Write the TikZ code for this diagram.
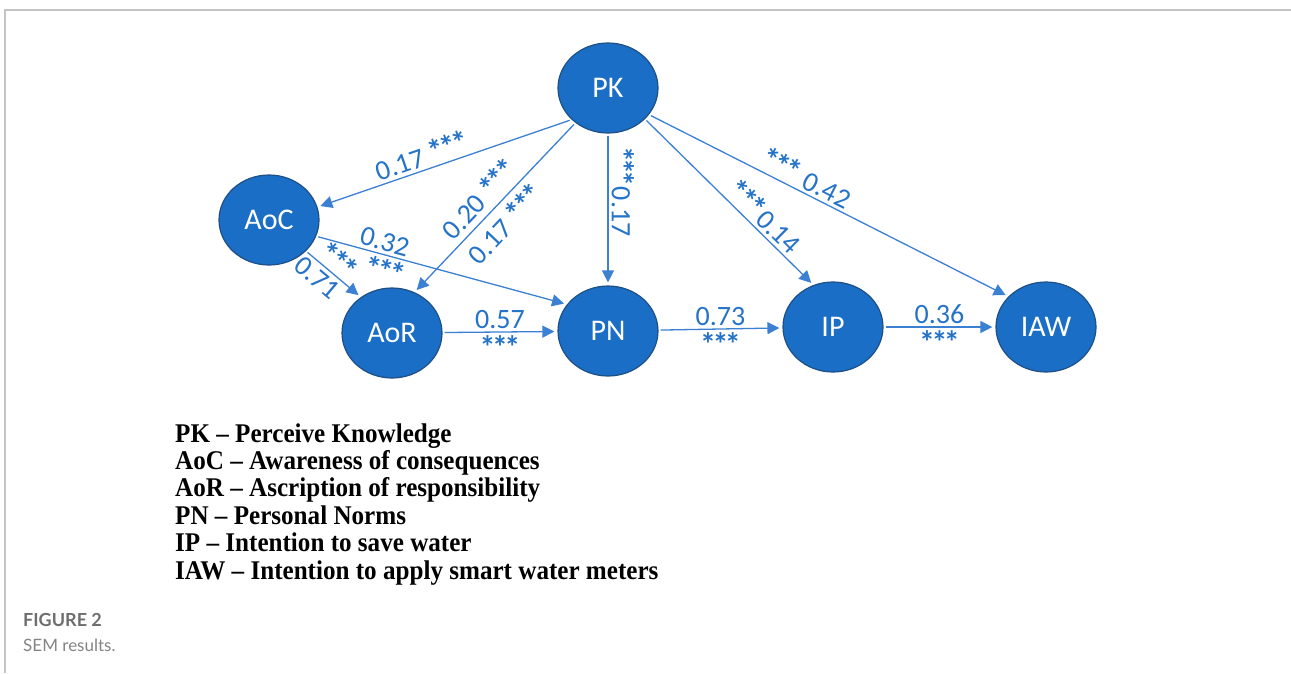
\documentclass[tikz,border=0pt]{standalone}
\usepackage{fontspec}
\setmainfont{Carlito}
\newfontfamily\legendfont[FakeStretch=0.93]{Liberation Serif}
\newfontfamily\capfont{Lato}
\usetikzlibrary{positioning,arrows.meta,shapes.geometric}
\definecolor{nodeblue}{HTML}{1A6EC5}
\definecolor{nodeedge}{HTML}{1E4F85}
\definecolor{pathblue}{HTML}{3B80D2}
\definecolor{labelblue}{HTML}{2573C8}
\definecolor{framegray}{HTML}{C4C4C4}
\definecolor{capgray}{HTML}{6E6E6E}
\newcommand{\stars}{{\bfseries\fontsize{32}{30}\selectfont*\kern-3.5pt*\kern-3.5pt*}}

\begin{document}
\begin{tikzpicture}[x=1pt,y=-1pt,
  construct/.style={ellipse,draw=nodeedge,line width=1.2pt,fill=nodeblue,minimum width=100pt,minimum height=90pt,inner sep=0pt,text=white,font=\fontsize{30}{32}\selectfont},
  link/.style={draw=pathblue,line width=1.3pt,-{Triangle[length=12pt,width=12pt]},shorten >=3pt,shorten <=2pt},
  coef/.style={text=labelblue,font=\fontsize{28}{30}\selectfont,inner sep=3pt},
  legend/.style={anchor=base west,font=\legendfont\bfseries\fontsize{27}{29}\selectfont,inner sep=0pt}]
\useasboundingbox (0,0) rectangle (1291,673);
\draw[framegray,line width=1.5pt] (5,673) -- (5,10) -- (1291,10);

% constructs
\node[construct] (PK) at (608,88) {PK};
\node[construct] (AoC) at (269,220) {AoC};
\node[construct] (AoR) at (392,333) {AoR};
\node[construct] (PN) at (608,331) {PN};
\node[construct] (IP) at (833,327) {IP};
\node[construct] (IAW) at (1046,327) {IAW};

% paths
\draw[link] (PK.221) -- node[coef,sloped,above,pos=0.57] {0.17 \stars} (AoC.15);
\draw[link] (PK.227) -- node[coef,sloped,above,pos=0.52,inner sep=6pt] {0.20 \stars}
                        node[coef,sloped,below,pos=0.52,inner sep=6pt] {0.17 \stars} (AoR.61);
\draw[link] (PK) -- node[coef,rotate=-90,anchor=south,pos=0.38] {\stars0.17} (PN);
\draw[link] (PK.-40) -- node[coef,sloped,above,pos=0.65] {\stars0.14} (IP.115);
\draw[link] (PK.-33) -- node[coef,sloped,above,pos=0.42] {\stars\ 0.42} (IAW.141);
\draw[link] (AoC.-40) -- node[coef,sloped,above,pos=0.44,inner sep=1pt] {\stars}
                         node[coef,sloped,below,pos=0.36] {0.71} (AoR.131);
\draw[link] (AoC.-19) -- node[coef,sloped,above,pos=0.26] {0.32}
                         node[coef,sloped,below,pos=0.29] {\stars} (PN.147);
\draw[link] (AoR) -- node[coef,above] {0.57} node[coef,below] {\stars} (PN);
\draw[link] (PN) -- node[coef,above] {0.73} node[coef,below] {\stars} (IP);
\draw[link] (IP) -- node[coef,above] {0.36} node[coef,below] {\stars} (IAW);

% legend
\foreach \i/\txt in {1/PK – Perceive Knowledge,2/AoC – Awareness of consequences,3/AoR – Ascription of responsibility,4/PN – Personal Norms,5/IP – Intention to save water,6/IAW – Intention to apply smart water meters} {
    \node[legend] (leg\i) at (175,{442+27.4*(\i-1)}) {\txt};
}

\node[anchor=base west,font=\capfont\bfseries\fontsize{18}{20}\selectfont,text=capgray,inner sep=0pt] (figlabel) at (23,626) {FIGURE 2};
\node[anchor=base west,font=\capfont\fontsize{17}{20}\selectfont,text=capgray!85,inner sep=0pt] (figcaption) at (23,651) {SEM results.};
\end{tikzpicture}
\end{document}
